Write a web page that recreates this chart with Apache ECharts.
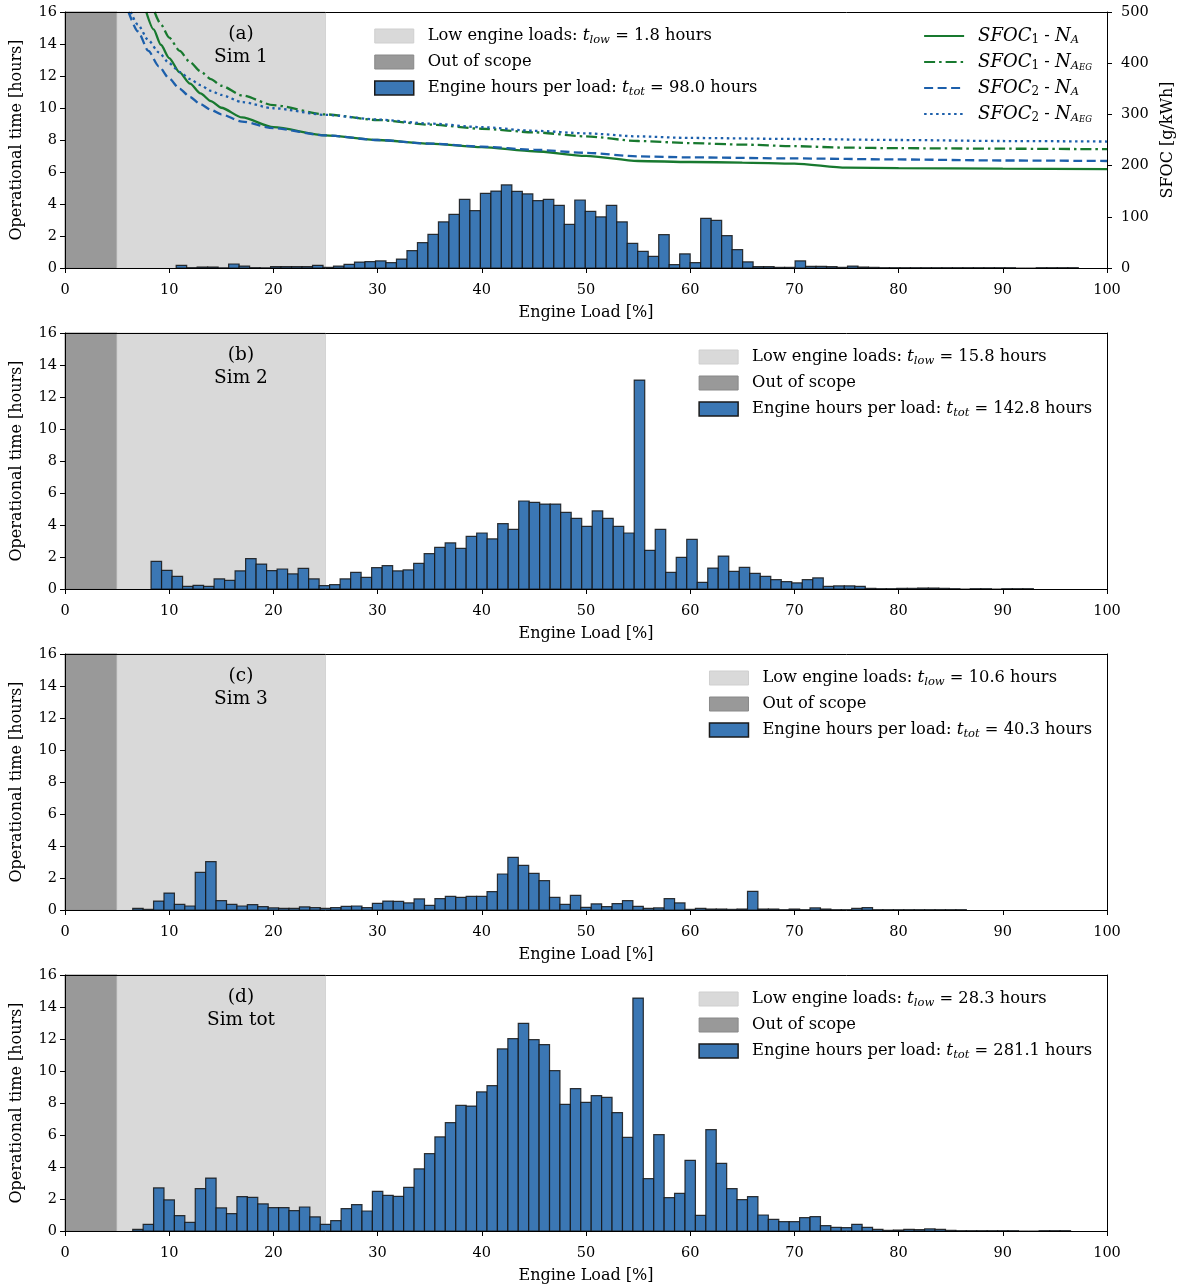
<!DOCTYPE html>
<html>
<head>
<meta charset="utf-8">
<script src="https://cdn.jsdelivr.net/npm/echarts@6/dist/echarts.min.js"></script>
<style>
  html, body { margin: 0; padding: 0; background: #fff; }
  #chart { width: 1185px; height: 1288px; }
</style>
</head>
<body>
<div id="chart"></div>
<script>
// ---- Histogram bins: left edge of first bin, bin width [% load], hours per bin ----
const sim1Start = 10.67, sim1Width = 1.0067;
const sim1Hours = [
  0.17, 0.02, 0.06, 0.06, 0.01, 0.25, 0.12, 0.02, 0.01, 0.08,
  0.08, 0.08, 0.08, 0.17, 0.04, 0.12, 0.23, 0.37, 0.40, 0.44,
  0.33, 0.56, 1.08, 1.58, 2.10, 2.88, 3.35, 4.29, 3.58, 4.67,
  4.81, 5.19, 4.79, 4.63, 4.21, 4.29, 3.92, 2.73, 4.25, 3.54,
  3.19, 3.92, 2.88, 1.54, 1.04, 0.73, 2.08, 0.21, 0.88, 0.33,
  3.10, 2.98, 2.02, 1.15, 0.38, 0.08, 0.08, 0.04, 0.04, 0.44,
  0.10, 0.10, 0.08, 0.04, 0.12, 0.06, 0.04, 0.02, 0.02, 0.02,
  0.02, 0.02, 0.02, 0.02, 0.02, 0.02, 0.02, 0.02, 0.02, 0.02,
  0.00, 0.00, 0.02, 0.02, 0.02, 0.02
];

const sim2Start = 8.26, sim2Width = 1.008;
const sim2Hours = [
  1.73, 1.17, 0.79, 0.17, 0.23, 0.17, 0.63, 0.54, 1.13, 1.90,
  1.56, 1.15, 1.25, 0.94, 1.29, 0.63, 0.21, 0.27, 0.63, 1.04,
  0.73, 1.33, 1.46, 1.13, 1.19, 1.60, 2.21, 2.60, 2.88, 2.54,
  3.29, 3.50, 3.13, 4.08, 3.73, 5.50, 5.42, 5.31, 5.31, 4.79,
  4.42, 3.92, 4.88, 4.42, 3.92, 3.50, 13.06, 2.42, 3.73, 1.04,
  1.98, 3.10, 0.42, 1.31, 2.06, 1.10, 1.35, 0.98, 0.79, 0.58,
  0.46, 0.38, 0.58, 0.69, 0.17, 0.19, 0.19, 0.17, 0.04, 0.02,
  0.02, 0.04, 0.04, 0.06, 0.06, 0.04, 0.02, 0.00, 0.02, 0.02,
  0.00, 0.02, 0.02, 0.02
];

const sim3Start = 6.5, sim3Width = 1.0;
const sim3Hours = [
  0.10, 0.04, 0.56, 1.06, 0.35, 0.25, 2.35, 3.02, 0.58, 0.35,
  0.25, 0.33, 0.21, 0.13, 0.10, 0.10, 0.19, 0.15, 0.10, 0.15,
  0.23, 0.25, 0.15, 0.42, 0.56, 0.54, 0.44, 0.69, 0.29, 0.71,
  0.85, 0.79, 0.85, 0.85, 1.15, 2.25, 3.29, 2.79, 2.29, 1.83,
  0.79, 0.35, 0.92, 0.17, 0.38, 0.21, 0.40, 0.58, 0.23, 0.10,
  0.13, 0.71, 0.44, 0.04, 0.10, 0.06, 0.06, 0.04, 0.06, 1.17,
  0.06, 0.06, 0.02, 0.06, 0.02, 0.13, 0.06, 0.02, 0.02, 0.10,
  0.15, 0.02, 0.02, 0.02, 0.02, 0.02, 0.02, 0.02, 0.02, 0.02
];

const simTotStart = 6.5, simTotWidth = 1.0;
const simTotHours = [
  0.10, 0.42, 2.69, 1.94, 0.96, 0.54, 2.65, 3.31, 1.44, 1.08,
  2.15, 2.10, 1.69, 1.46, 1.46, 1.27, 1.50, 0.88, 0.42, 0.65,
  1.40, 1.65, 1.25, 2.48, 2.23, 2.17, 2.73, 3.88, 4.83, 5.88,
  6.77, 7.85, 7.81, 8.69, 9.08, 11.38, 12.02, 12.98, 11.96, 11.65,
  10.02, 7.92, 8.90, 8.04, 8.46, 8.35, 7.40, 5.85, 14.56, 3.27,
  6.02, 2.08, 2.35, 4.42, 0.98, 6.33, 4.23, 2.65, 1.96, 2.15,
  1.00, 0.73, 0.58, 0.58, 0.83, 0.90, 0.33, 0.23, 0.21, 0.42,
  0.23, 0.10, 0.04, 0.06, 0.10, 0.08, 0.13, 0.10, 0.04, 0.02,
  0.02, 0.02, 0.02, 0.02, 0.02, 0.00, 0.00, 0.02, 0.02, 0.02
];

// ---- Load regions [% load] ----
const outOfScopeRange = [0, 5];
const lowLoadRange = [5, 25];

// ---- Totals shown in the legends [hours] ----
const lowHours = [1.8, 15.8, 10.6, 28.3];
const totHours = [98.0, 142.8, 40.3, 281.1];
const panelTags = ['(a)', '(b)', '(c)', '(d)'];
const panelNames = ['Sim 1', 'Sim 2', 'Sim 3', 'Sim tot'];

// ---- SFOC curves [load %, g/kWh] ----
const sfoc1NA = [
  [7.8, 500], [8.5, 466], [9.2, 436], [10, 410], [11, 382], [12, 360], [13, 341],
  [14, 326], [15, 313], [17, 294], [20, 275], [25, 259], [30, 250], [35, 243],
  [40, 236], [45, 228], [50, 219], [55, 209], [60, 207], [65, 206], [70, 204],
  [75, 196], [80, 195], [90, 194], [100, 193]
];
const sfoc1NAEG = [
  [8.6, 500], [9.2, 476], [10, 450], [11, 424], [12, 402], [13, 384], [14, 369],
  [15, 356], [17, 337], [20, 318], [25, 300], [30, 289], [35, 280], [40, 272],
  [45, 265], [50, 257], [55, 248], [60, 244], [65, 241], [70, 238], [75, 235],
  [80, 234], [90, 233], [100, 232]
];
const sfoc2NA = [
  [6.1, 500], [7, 462], [8, 424], [9, 394], [10, 370], [11, 350], [12, 334],
  [13, 320], [14, 309], [15, 300], [17, 286], [20, 273], [25, 259], [30, 250],
  [35, 243], [40, 237], [45, 231], [50, 225], [55, 218], [60, 216], [70, 214],
  [80, 212], [90, 210], [100, 209]
];
const sfoc2NAEG = [
  [6.3, 500], [7, 475], [8, 445], [9, 421], [10, 400], [11, 383], [12, 369],
  [13, 357], [14, 346], [15, 338], [17, 324], [20, 312], [25, 299], [30, 290],
  [35, 282], [40, 275], [45, 268], [50, 263], [55, 257], [60, 254], [70, 252],
  [80, 250], [90, 248], [100, 247]
];

// ---- Styling ----
const FONT = '"DejaVu Serif", "Liberation Serif", serif';
const BAR_FILL = '#3b77b4';
const BAR_EDGE = 'rgba(20,20,20,0.85)';
const OUT_FILL = '#999999';
const LOW_FILL = '#d9d9d9';
const GREEN = '#18792f';
const BLUE = '#1c5fab';

const GRID_LEFT = 65, GRID_RIGHT = 78, GRID_H = 256;
const gridTops = [12, 333, 654, 975];

const sims = [
  { start: sim1Start, width: sim1Width, hours: sim1Hours },
  { start: sim2Start, width: sim2Width, hours: sim2Hours },
  { start: sim3Start, width: sim3Width, hours: sim3Hours },
  { start: simTotStart, width: simTotWidth, hours: simTotHours }
];

function binData(sim) {
  return sim.hours.map((h, k) => [sim.start + k * sim.width, sim.start + (k + 1) * sim.width, h]);
}

function renderBin(params, api) {
  const top = api.coord([api.value(0), api.value(2)]);
  const base = api.coord([api.value(1), 0]);
  return {
    type: 'rect',
    shape: { x: top[0], y: top[1], width: base[0] - top[0], height: base[1] - top[1] },
    style: { fill: BAR_FILL, stroke: BAR_EDGE, lineWidth: 1.2 }
  };
}

function spanRenderer(fill, edge) {
  return function (params, api) {
    const cs = params.coordSys;
    const x0 = api.coord([api.value(0), 0])[0];
    const x1 = api.coord([api.value(1), 0])[0];
    return {
      type: 'rect',
      shape: { x: x0, y: cs.y, width: x1 - x0, height: cs.height },
      style: { fill: fill, stroke: edge, lineWidth: 1 }
    };
  };
}

const tickText = { fontFamily: FONT, fontSize: 14.5, color: '#000' };
const nameText = { fontFamily: FONT, fontSize: 16, color: '#000' };
const blackLine = { color: '#000', width: 1 };

const grids = [], xAxes = [], yAxes = [], series = [], legends = [], graphics = [];

const legendRich = {
  it: { fontFamily: FONT, fontStyle: 'italic', fontSize: 17, color: '#000', lineHeight: 20, verticalAlign: 'middle' },
  itm: { fontFamily: FONT, fontStyle: 'italic', fontSize: 18, color: '#000', lineHeight: 20, verticalAlign: 'middle' },
  sub: { fontFamily: FONT, fontStyle: 'italic', fontSize: 11.5, color: '#000', lineHeight: 10, verticalAlign: 'bottom' },
  subd: { fontFamily: FONT, fontSize: 12, color: '#000', lineHeight: 10, verticalAlign: 'bottom' },
  subsub: { fontFamily: FONT, fontStyle: 'italic', fontSize: 8.5, color: '#000', lineHeight: 5, verticalAlign: 'bottom' }
};

function richName(name) {
  return name
    .replace('t_low', '{it|t}{sub|low}')
    .replace('t_tot', '{it|t}{sub|tot}')
    .replace(/SFOC_(\d)/, '{itm|SFOC}{subd|$1}')
    .replace('N_A_EG', '{itm|N}{sub|A}{subsub|EG}')
    .replace('N_A', '{itm|N}{sub|A}');
}

const legendBase = {
  orient: 'vertical',
  padding: 0,
  itemGap: 6,
  itemWidth: 39,
  itemHeight: 14,
  selectedMode: false,
  formatter: richName,
  textStyle: { fontFamily: FONT, fontSize: 16.3, color: '#000', lineHeight: 20, padding: [0, 0, 0, 9], rich: legendRich }
};

sims.forEach((sim, i) => {
  const top = gridTops[i];
  grids.push({ left: GRID_LEFT, right: GRID_RIGHT, top: top, height: GRID_H });

  // bottom + top x axes (top one just closes the frame)
  xAxes.push({
    gridIndex: i, type: 'value', min: 0, max: 100, interval: 10, position: 'bottom', z: 10,
    name: 'Engine Load [%]', nameLocation: 'middle', nameGap: 37, nameTextStyle: nameText,
    axisLine: { onZero: false, lineStyle: blackLine },
    axisTick: { length: 5, lineStyle: blackLine },
    axisLabel: Object.assign({ margin: 15 }, tickText),
    splitLine: { show: false }
  });
  xAxes.push({
    gridIndex: i, type: 'value', min: 0, max: 100, position: 'top', z: 10,
    axisLine: { onZero: false, lineStyle: blackLine },
    axisTick: { show: false }, axisLabel: { show: false }, splitLine: { show: false }
  });

  yAxes.push({
    gridIndex: i, type: 'value', min: 0, max: 16, interval: 2, position: 'left', z: 10,
    name: 'Operational time [hours]', nameLocation: 'middle', nameGap: 40, nameRotate: 90,
    nameTextStyle: nameText,
    axisLine: { show: true, onZero: false, lineStyle: blackLine },
    axisTick: { show: true, length: 5, lineStyle: blackLine },
    axisLabel: Object.assign({ margin: 8 }, tickText),
    splitLine: { show: false }
  });
  if (i === 0) {
    yAxes.push({
      gridIndex: i, type: 'value', min: 0, max: 500, interval: 100, position: 'right', z: 10,
      name: 'SFOC [g/kWh]', nameLocation: 'middle', nameGap: 51, nameRotate: 90,
      nameTextStyle: nameText,
      axisLine: { show: true, onZero: false, lineStyle: blackLine },
      axisTick: { show: true, length: 5, lineStyle: blackLine },
      axisLabel: Object.assign({ margin: 14 }, tickText),
      splitLine: { show: false }
    });
  } else {
    yAxes.push({
      gridIndex: i, type: 'value', min: 0, max: 16, position: 'right', z: 10,
      axisLine: { show: true, onZero: false, lineStyle: blackLine },
      axisTick: { show: false }, axisLabel: { show: false }, splitLine: { show: false }
    });
  }

  const xi = 2 * i, yi = 2 * i;
  const lowName = 'Low engine loads: t_low = ' + lowHours[i].toFixed(1) + ' hours';
  const totName = 'Engine hours per load: t_tot = ' + totHours[i].toFixed(1) + ' hours';

  series.push({
    type: 'custom', name: 'Out of scope', xAxisIndex: xi, yAxisIndex: yi, z: 1,
    itemStyle: { color: OUT_FILL }, renderItem: spanRenderer(OUT_FILL, '#8c8c8c'),
    encode: { x: [0, 1] }, data: [outOfScopeRange], silent: true
  });
  series.push({
    type: 'custom', name: lowName, xAxisIndex: xi, yAxisIndex: yi, z: 1,
    itemStyle: { color: LOW_FILL }, renderItem: spanRenderer(LOW_FILL, '#d4d4d4'),
    encode: { x: [0, 1] }, data: [lowLoadRange], silent: true
  });
  series.push({
    type: 'custom', name: totName, xAxisIndex: xi, yAxisIndex: yi, z: 3,
    itemStyle: { color: BAR_FILL }, renderItem: renderBin,
    encode: { x: [0, 1], y: 2 }, data: binData(sim), silent: true
  });

  const boxLegend = Object.assign({}, legendBase, {
    top: top + 14,
    data: [
      { name: lowName, icon: 'rect', itemStyle: { color: LOW_FILL, borderColor: '#cfcfcf', borderWidth: 1 } },
      { name: 'Out of scope', icon: 'rect', itemStyle: { color: OUT_FILL, borderColor: '#888', borderWidth: 1 } },
      { name: totName, icon: 'rect', itemStyle: { color: BAR_FILL, borderColor: '#1a1a1a', borderWidth: 1.5 } }
    ]
  });
  if (i === 0) boxLegend.left = 374; else boxLegend.right = 93;
  legends.push(boxLegend);

  graphics.push({
    type: 'text', x: 241, y: top + 11, z: 100,
    style: {
      text: panelTags[i] + '\n' + panelNames[i], align: 'center', verticalAlign: 'top',
      font: '18.5px ' + FONT, lineHeight: 23, fill: '#000'
    }
  });
});

// SFOC curves in the first panel, on the right axis
const curveDefs = [
  { name: 'SFOC_1 - N_A', data: sfoc1NA, color: GREEN, type: 'solid' },
  { name: 'SFOC_1 - N_A_EG', data: sfoc1NAEG, color: GREEN, type: [11, 4, 2.5, 4] },
  { name: 'SFOC_2 - N_A', data: sfoc2NA, color: BLUE, type: [9, 4.5] },
  { name: 'SFOC_2 - N_A_EG', data: sfoc2NAEG, color: BLUE, type: [2.5, 3.5] }
];
curveDefs.forEach(c => {
  series.push({
    type: 'line', name: c.name, xAxisIndex: 0, yAxisIndex: 1, z: 5,
    data: c.data, showSymbol: false, symbol: 'none', smooth: 0.25, smoothMonotone: 'x',
    clip: true, silent: true,
    itemStyle: { color: c.color },
    lineStyle: { color: c.color, width: 2.3, type: c.type }
  });
});
legends.push(Object.assign({}, legendBase, {
  right: 93, top: 26, itemWidth: 40,
  data: curveDefs.map(c => ({ name: c.name, itemStyle: { opacity: 0 } }))
}));

const chart = echarts.init(document.getElementById('chart'), null, { renderer: 'canvas' });
chart.setOption({
  backgroundColor: '#fff',
  animation: false,
  grid: grids,
  xAxis: xAxes,
  yAxis: yAxes,
  legend: legends,
  graphic: graphics,
  series: series
});
</script>
</body>
</html>
